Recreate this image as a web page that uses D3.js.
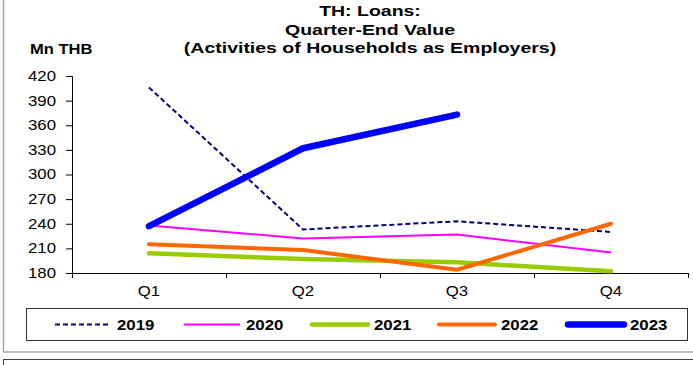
<!DOCTYPE html>
<html>
<head>
<meta charset="utf-8">
<script src="https://cdn.jsdelivr.net/npm/d3@7"></script>
<style>
  body { margin: 0; background: #fff; }
  svg { display: block; font-family: 'Liberation Sans', Arial, sans-serif; }
</style>
</head>
<body>
<script>
const quarters = ['Q1', 'Q2', 'Q3', 'Q4'];
const years = ['2019', '2020', '2021', '2022', '2023'];
const v2019 = [406, 233, 243, 230];
const v2020 = [238, 222, 227, 205];
const v2021 = [204, 197, 193, 182];
const v2022 = [215, 208, 184, 240];
const v2023 = [237, 332, 373];
const yTicks = [180, 210, 240, 270, 300, 330, 360, 390, 420];

const seriesValues = [v2019, v2020, v2021, v2022, v2023];
const colors = ['#000080', '#ff00ff', '#99cc00', '#ff6600', '#0000ff'];
const widths = [2, 2, 4.5, 4, 6.5];
const dashes = ['5,3', null, null, null, null];

const width = 693, height = 365;

const svg = d3.select('body')
    .append('svg')
    .attr('width', width)
    .attr('height', height);

// outer frames
svg.append('rect')
    .attr('x', 3.5).attr('y', -5)
    .attr('width', 700).attr('height', 357)
    .attr('fill', 'none')
    .attr('stroke', '#a6a6a6')
    .attr('stroke-width', 1.5);
svg.append('rect')
    .attr('x', 3.5).attr('y', 359.5)
    .attr('width', 700).attr('height', 20)
    .attr('fill', 'none')
    .attr('stroke', '#404040')
    .attr('stroke-width', 1);

// widen text horizontally, the source picture is stretched
function stretch(sel, sx) {
    sel.each(function() {
        const t = d3.select(this);
        const x = +t.attr('x') || 0;
        t.attr('x', x / sx).attr('transform', 'scale(' + sx + ',1)');
    });
}

const xScale = d3.scaleBand()
    .domain(quarters)
    .range([72, 688]);

const yScale = d3.scaleLinear()
    .domain([180, 420])
    .range([273, 76]);

// title
const title = svg.append('g')
    .attr('transform', 'translate(370,0)')
    .style('font-weight', 'bold')
    .style('font-size', '15px')
    .attr('text-anchor', 'middle');
['TH: Loans:', 'Quarter-End Value', '(Activities of Households as Employers)'].forEach((s, i) => {
    title.append('g')
        .attr('transform', 'translate(0,' + (16 + i * 18.5) + ')')
        .append('text')
        .text(s);
});
stretch(title.selectAll('text'), 1.3);

const unit = svg.append('g')
    .attr('transform', 'translate(30,54)')
    .append('text')
    .style('font-weight', 'bold')
    .style('font-size', '14px')
    .text('Mn THB');
stretch(unit, 1.18);

// y axis
const yAxis = d3.axisLeft(yScale)
    .tickValues(yTicks)
    .tickSize(6)
    .tickPadding(10);

const gy = svg.append('g')
    .attr('transform', 'translate(72,0)')
    .call(yAxis);
gy.select('.domain').attr('stroke', '#000');
gy.attr('font-family', null).attr('font-size', null);
gy.selectAll('text').style('font-size', '14px').attr('fill', '#000');
stretch(gy.selectAll('text'), 1.2);

// x axis labels
const xAxis = d3.axisBottom(xScale)
    .tickSize(0)
    .tickPadding(13);

const gx = svg.append('g')
    .attr('transform', 'translate(0,273)')
    .call(xAxis);
gx.attr('font-family', null).attr('font-size', null);
gx.selectAll('text').style('font-size', '14px').attr('fill', '#000');
stretch(gx.selectAll('text'), 1.2);

// boundary ticks on x axis
const bounds = quarters.map(q => xScale(q)).concat([xScale.range()[1]]);
gx.selectAll('line.bound')
    .data(bounds)
    .enter()
    .append('line')
    .attr('class', 'bound')
    .attr('x1', d => d + 0.5).attr('x2', d => d + 0.5)
    .attr('y1', 0).attr('y2', 5)
    .attr('stroke', '#000');

// series
const line = d3.line()
    .x((d, i) => xScale(quarters[i]) + xScale.bandwidth() / 2)
    .y(d => yScale(d));

svg.selectAll('path.series')
    .data(seriesValues)
    .enter()
    .append('path')
    .attr('class', 'series')
    .attr('d', d => line(d))
    .attr('fill', 'none')
    .attr('stroke', (d, i) => colors[i])
    .attr('stroke-width', (d, i) => widths[i])
    .attr('stroke-dasharray', (d, i) => dashes[i])
    .attr('stroke-linejoin', 'round')
    .attr('stroke-linecap', (d, i) => i > 1 ? 'round' : 'butt');

// legend
svg.append('rect')
    .attr('x', 26.5).attr('y', 308.5)
    .attr('width', 661).attr('height', 32)
    .attr('fill', '#fff')
    .attr('stroke', '#333')
    .attr('stroke-width', 1);

const legendX = [55, 184, 312, 439, 568];

const items = svg.selectAll('g.legend-item')
    .data(years)
    .enter()
    .append('g')
    .attr('class', 'legend-item')
    .attr('transform', (d, i) => 'translate(' + legendX[i] + ',324.5)');

items.append('line')
    .attr('x1', 0).attr('x2', 56)
    .attr('stroke', (d, i) => colors[i])
    .attr('stroke-width', (d, i) => widths[i])
    .attr('stroke-dasharray', (d, i) => dashes[i])
    .attr('stroke-linecap', (d, i) => i > 1 ? 'round' : 'butt');

const ltext = items.append('g')
    .attr('transform', 'translate(62,5.5)')
    .append('text')
    .style('font-weight', 'bold')
    .style('font-size', '15px')
    .text(d => d);
stretch(ltext, 1.12);
</script>
</body>
</html>
